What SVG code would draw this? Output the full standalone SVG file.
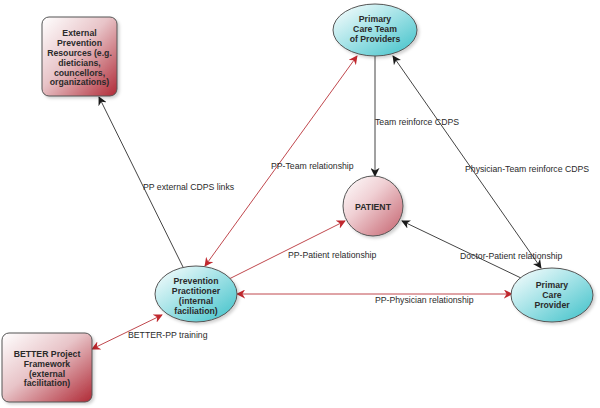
<svg xmlns="http://www.w3.org/2000/svg" width="600" height="408" viewBox="0 0 600 408">
<defs>
<linearGradient id="gRed" x1="0" y1="0" x2="1" y2="1">
<stop offset="0" stop-color="#ffffff"/>
<stop offset="0.45" stop-color="#e8c4c8"/>
<stop offset="1" stop-color="#b02a36"/>
</linearGradient>
<linearGradient id="gCyan" x1="0" y1="0" x2="1" y2="1">
<stop offset="0" stop-color="#ffffff"/>
<stop offset="0.45" stop-color="#a8e4e8"/>
<stop offset="1" stop-color="#3cc0c8"/>
</linearGradient>
<linearGradient id="gPink" x1="0" y1="0" x2="1" y2="1">
<stop offset="0" stop-color="#ffffff"/>
<stop offset="0.4" stop-color="#f0d0d4"/>
<stop offset="1" stop-color="#c4606c"/>
</linearGradient>
<filter id="sh" x="-20%" y="-20%" width="140%" height="140%">
<feDropShadow dx="2" dy="2" stdDeviation="1.5" flood-color="#000" flood-opacity="0.18"/>
</filter>
<marker id="ak" viewBox="0 0 10 10" refX="9" refY="5" markerWidth="9" markerHeight="9" markerUnits="userSpaceOnUse" orient="auto-start-reverse">
<path d="M0,0 L10,5 L0,10 L3,5 z" fill="#1a1a1a"/>
</marker>
<marker id="ar" viewBox="0 0 10 10" refX="9" refY="5" markerWidth="9" markerHeight="9" markerUnits="userSpaceOnUse" orient="auto-start-reverse">
<path d="M0,0 L10,5 L0,10 L3,5 z" fill="#c0282e"/>
</marker>
<style>
.node{stroke:#555;stroke-width:1;filter:url(#sh)}
.nl{font-family:"Liberation Sans",Arial,sans-serif;font-size:8.7px;font-weight:bold;fill:#2a2a2a;text-anchor:middle}
.el{font-family:"Liberation Sans",Arial,sans-serif;font-size:8.7px;fill:#2a2a2a}
.cb{stroke:#444;stroke-width:1;fill:none}
.cr{stroke:#c0484e;stroke-width:1;fill:none}
</style>
</defs>
<rect width="600" height="408" fill="#ffffff"/>
<g id="connectors">
<line class="cb" x1="183" y1="267" x2="99" y2="97" marker-end="url(#ak)"/>
<line class="cr" x1="205" y1="266" x2="357" y2="56" marker-start="url(#ar)" marker-end="url(#ar)"/>
<line class="cr" x1="229" y1="279" x2="345" y2="221" marker-end="url(#ar)"/>
<line class="cb" x1="375" y1="56" x2="375" y2="176" marker-end="url(#ak)"/>
<line class="cb" x1="541" y1="268" x2="393" y2="56" marker-start="url(#ak)" marker-end="url(#ak)"/>
<line class="cb" x1="521" y1="278" x2="402" y2="221" marker-end="url(#ak)"/>
<line class="cr" x1="237" y1="294" x2="512" y2="294" marker-start="url(#ar)" marker-end="url(#ar)"/>
<line class="cr" x1="92" y1="349" x2="162" y2="315" marker-start="url(#ar)" marker-end="url(#ar)"/>
<text class="el" x="143" y="190">PP external CDPS links</text>
<text class="el" x="271" y="169">PP-Team relationship</text>
<text class="el" x="288" y="258">PP-Patient relationship</text>
<text class="el" x="375" y="125">Team reinforce CDPS</text>
<text class="el" x="465" y="172">Physician-Team reinforce CDPS</text>
<text class="el" x="460" y="259">Doctor-Patient relationship</text>
<text class="el" x="375" y="303">PP-Physician relationship</text>
<text class="el" x="128" y="338">BETTER-PP training</text>
</g>
<g id="external">
<rect class="node" x="42" y="17" width="75" height="79" rx="7" fill="url(#gRed)"/>
<text class="nl" x="79.5" y="36">External</text>
<text class="nl" x="79.5" y="46">Prevention</text>
<text class="nl" x="79.5" y="56">Resources (e.g.</text>
<text class="nl" x="79.5" y="66">dieticians,</text>
<text class="nl" x="79.5" y="75.5">councellors,</text>
<text class="nl" x="79.5" y="85">organizations)</text>
</g>
<g id="team">
<ellipse class="node" cx="375" cy="30" rx="42" ry="26" fill="url(#gCyan)"/>
<text class="nl" x="375" y="22">Primary</text>
<text class="nl" x="375" y="32">Care Team</text>
<text class="nl" x="375" y="42">of Providers</text>
</g>
<g id="patient">
<circle class="node" cx="373" cy="206" r="30" fill="url(#gPink)"/>
<text class="nl" x="373" y="210">PATIENT</text>
</g>
<g id="practitioner">
<ellipse class="node" cx="196" cy="294" rx="41" ry="28" fill="url(#gCyan)"/>
<text class="nl" x="196" y="284">Prevention</text>
<text class="nl" x="196" y="294">Practitioner</text>
<text class="nl" x="196" y="304">(internal</text>
<text class="nl" x="196" y="313.5">faciliation)</text>
</g>
<g id="better">
<rect class="node" x="2" y="333" width="90" height="69" rx="7" fill="url(#gRed)"/>
<text class="nl" x="47" y="357">BETTER Project</text>
<text class="nl" x="47" y="367">Framework</text>
<text class="nl" x="47" y="376.5">(external</text>
<text class="nl" x="47" y="386">facilitation)</text>
</g>
<g id="provider">
<ellipse class="node" cx="552" cy="295" rx="41" ry="27" fill="url(#gCyan)"/>
<text class="nl" x="552" y="288">Primary</text>
<text class="nl" x="552" y="298">Care</text>
<text class="nl" x="552" y="308">Provider</text>
</g>
</svg>
